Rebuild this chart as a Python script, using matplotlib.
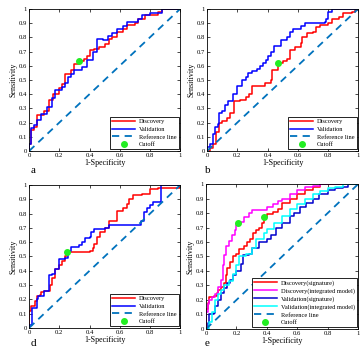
import matplotlib.pyplot as plt
import numpy as np

plt.rcParams['font.family'] = 'Liberation Serif'
plt.rcParams['xtick.direction'] = 'in'
plt.rcParams['ytick.direction'] = 'in'

# panel a
a_disc_x = [0, 0, 0.01, 0.01, 0.03, 0.03, 0.05, 0.05, 0.10, 0.10, 0.13, 0.13, 0.16, 0.16, 0.20, 0.20, 0.22, 0.22,
            0.24, 0.24, 0.28, 0.28, 0.30, 0.30, 0.33, 0.36, 0.38, 0.40, 0.40, 0.43, 0.46, 0.46, 0.50, 0.50, 0.53,
            0.53, 0.55, 0.55, 0.58, 0.58, 0.62, 0.62, 0.65, 0.65, 0.70, 0.72, 0.77, 0.77, 0.85, 0.88, 1]
a_disc_y = [0, 0.05, 0.05, 0.15, 0.15, 0.17, 0.17, 0.25, 0.25, 0.28, 0.28, 0.36, 0.36, 0.40, 0.40, 0.44, 0.44, 0.47,
            0.47, 0.54, 0.54, 0.57, 0.57, 0.61, 0.63, 0.65, 0.67, 0.67, 0.71, 0.72, 0.72, 0.73, 0.73, 0.75, 0.75,
            0.79, 0.79, 0.80, 0.80, 0.84, 0.84, 0.86, 0.86, 0.89, 0.90, 0.93, 0.93, 0.96, 0.98, 1.00, 1]
a_val_x = [0, 0, 0.01, 0.01, 0.03, 0.03, 0.05, 0.05, 0.08, 0.08, 0.12, 0.12, 0.15, 0.15, 0.17, 0.17, 0.22, 0.22,
           0.24, 0.24, 0.26, 0.26, 0.28, 0.28, 0.30, 0.30, 0.35, 0.35, 0.38, 0.38, 0.42, 0.42, 0.45, 0.45, 0.49,
           0.49, 0.52, 0.52, 0.55, 0.55, 0.58, 0.58, 0.62, 0.62, 0.65, 0.65, 0.72, 0.75, 0.75, 0.80, 0.80, 0.88,
           0.88, 1]
a_val_y = [0, 0.05, 0.05, 0.16, 0.16, 0.18, 0.18, 0.22, 0.22, 0.26, 0.26, 0.31, 0.31, 0.37, 0.37, 0.43, 0.43, 0.45,
           0.45, 0.48, 0.48, 0.52, 0.52, 0.54, 0.54, 0.57, 0.57, 0.59, 0.59, 0.64, 0.64, 0.70, 0.70, 0.79, 0.79,
           0.78, 0.78, 0.81, 0.81, 0.83, 0.83, 0.86, 0.86, 0.88, 0.88, 0.91, 0.93, 0.93, 0.96, 0.96, 0.97, 0.97,
           1.00, 1]
a_cut = ([0.33], [0.63])

# panel b
b_disc_x = [0, 0.02, 0.04, 0.06, 0.06, 0.08, 0.08, 0.10, 0.10, 0.13, 0.13, 0.15, 0.15, 0.18, 0.18, 0.20, 0.22,
            0.26, 0.26, 0.28, 0.30, 0.35, 0.38, 0.42, 0.43, 0.43, 0.47, 0.50, 0.53, 0.55, 0.58, 0.62, 0.63, 0.66,
            0.70, 0.72, 0.75, 0.80, 0.83, 0.87, 0.90, 0.96, 0.98, 1]
b_disc_y = [0, 0.02, 0.05, 0.10, 0.13, 0.13, 0.20, 0.20, 0.21, 0.21, 0.23, 0.23, 0.27, 0.27, 0.35, 0.35, 0.36,
            0.36, 0.38, 0.40, 0.46, 0.46, 0.48, 0.50, 0.52, 0.57, 0.62, 0.63, 0.65, 0.71, 0.73, 0.76, 0.80, 0.83,
            0.84, 0.87, 0.89, 0.90, 0.93, 0.94, 0.97, 0.98, 0.99, 1]
b_val_x = [0, 0, 0.02, 0.02, 0.04, 0.04, 0.05, 0.07, 0.08, 0.08, 0.10, 0.12, 0.14, 0.17, 0.20, 0.23, 0.26, 0.27,
           0.30, 0.33, 0.35, 0.37, 0.39, 0.40, 0.42, 0.44, 0.47, 0.49, 0.52, 0.53, 0.55, 0.57, 0.60, 0.62, 0.65,
           0.75, 0.78, 0.79, 0.80, 0.83, 0.83, 1]
b_val_y = [0, 0.03, 0.03, 0.05, 0.05, 0.12, 0.17, 0.19, 0.19, 0.27, 0.28, 0.32, 0.35, 0.40, 0.46, 0.50, 0.52, 0.55,
           0.56, 0.58, 0.60, 0.62, 0.64, 0.67, 0.70, 0.74, 0.74, 0.78, 0.78, 0.80, 0.84, 0.86, 0.86, 0.88, 0.90,
           0.90, 0.91, 0.93, 0.98, 0.98, 1.00, 1]
b_cut = ([0.47], [0.62])

# panel d
d_disc_x = [0, 0, 0.01, 0.01, 0.04, 0.04, 0.05, 0.05, 0.07, 0.08, 0.10, 0.12, 0.14, 0.15, 0.17, 0.17, 0.20, 0.20,
            0.22, 0.22, 0.24, 0.25, 0.30, 0.38, 0.40, 0.42, 0.43, 0.45, 0.47, 0.50, 0.50, 0.53, 0.53, 0.57, 0.58,
            0.62, 0.65, 0.66, 0.69, 0.75, 0.80, 0.85, 0.90, 1.00, 1]
d_disc_y = [0, 0.12, 0.12, 0.15, 0.16, 0.19, 0.19, 0.22, 0.23, 0.25, 0.26, 0.26, 0.30, 0.35, 0.38, 0.41, 0.41, 0.44,
            0.44, 0.47, 0.50, 0.53, 0.53, 0.53, 0.54, 0.56, 0.59, 0.64, 0.67, 0.67, 0.70, 0.72, 0.75, 0.75, 0.82,
            0.84, 0.87, 0.90, 0.93, 0.94, 0.97, 0.98, 0.98, 0.99, 1]
d_val_x = [0, 0, 0.02, 0.02, 0.04, 0.05, 0.06, 0.09, 0.10, 0.13, 0.13, 0.15, 0.17, 0.20, 0.20, 0.24, 0.26, 0.28,
           0.33, 0.35, 0.37, 0.40, 0.41, 0.43, 0.50, 0.53, 0.72, 0.74, 0.76, 0.76, 0.78, 0.80, 0.82, 0.87, 0.87, 1]
d_val_y = [0, 0.02, 0.02, 0.14, 0.14, 0.20, 0.22, 0.22, 0.26, 0.32, 0.37, 0.38, 0.41, 0.45, 0.48, 0.49, 0.54, 0.57,
           0.58, 0.60, 0.63, 0.64, 0.67, 0.69, 0.70, 0.72, 0.72, 0.75, 0.76, 0.81, 0.84, 0.86, 0.88, 0.88, 1.00, 1]
d_cut = ([0.25], [0.53])

# panel e
e_disc_sig_x = [0, 0, 0.01, 0.02, 0.05, 0.07, 0.08, 0.10, 0.12, 0.13, 0.14, 0.16, 0.18, 0.20, 0.22, 0.25, 0.27,
                0.29, 0.31, 0.33, 0.35, 0.37, 0.38, 0.40, 0.44, 0.47, 0.50, 0.55, 0.60, 0.65, 0.70, 0.75, 1]
e_disc_sig_y = [0, 0.14, 0.18, 0.22, 0.23, 0.25, 0.27, 0.29, 0.32, 0.37, 0.42, 0.46, 0.50, 0.52, 0.55, 0.57, 0.60,
                0.62, 0.66, 0.68, 0.70, 0.73, 0.77, 0.79, 0.81, 0.83, 0.87, 0.90, 0.93, 0.96, 0.98, 1.00, 1]
e_disc_int_x = [0, 0, 0.01, 0.02, 0.04, 0.06, 0.08, 0.10, 0.11, 0.12, 0.13, 0.15, 0.17, 0.19, 0.20, 0.22, 0.25,
                0.28, 0.30, 0.37, 0.40, 0.44, 0.47, 0.50, 0.55, 0.60, 0.65, 0.70, 0.75, 1]
e_disc_int_y = [0, 0.12, 0.17, 0.20, 0.22, 0.24, 0.29, 0.34, 0.44, 0.51, 0.57, 0.61, 0.65, 0.68, 0.72, 0.74, 0.77,
                0.80, 0.82, 0.82, 0.84, 0.86, 0.88, 0.90, 0.93, 0.96, 0.98, 0.99, 1.00, 1]
e_val_sig_x = [0, 0.01, 0.02, 0.05, 0.06, 0.08, 0.10, 0.12, 0.14, 0.16, 0.18, 0.20, 0.23, 0.24, 0.28, 0.30, 0.35,
               0.40, 0.43, 0.46, 0.50, 0.55, 0.58, 0.62, 0.66, 0.70, 0.74, 0.80, 0.85, 0.90, 0.93, 1]
e_val_sig_y = [0, 0.04, 0.10, 0.11, 0.16, 0.20, 0.25, 0.28, 0.32, 0.34, 0.37, 0.40, 0.45, 0.51, 0.52, 0.56, 0.60,
               0.62, 0.65, 0.70, 0.73, 0.78, 0.80, 0.84, 0.87, 0.90, 0.93, 0.96, 0.97, 0.98, 1.00, 1]
e_val_int_x = [0, 0.02, 0.04, 0.06, 0.08, 0.10, 0.12, 0.15, 0.18, 0.20, 0.22, 0.26, 0.30, 0.33, 0.38, 0.40, 0.45,
               0.50, 0.55, 0.60, 0.65, 0.70, 0.75, 0.80, 0.85, 0.90, 1]
e_val_int_y = [0, 0.05, 0.12, 0.20, 0.24, 0.27, 0.30, 0.33, 0.38, 0.44, 0.50, 0.52, 0.56, 0.62, 0.66, 0.69, 0.73,
               0.78, 0.83, 0.86, 0.90, 0.93, 0.95, 0.97, 0.98, 1.00, 1]
e_cut = ([0.21, 0.38], [0.73, 0.77])

RED = '#FF0000'
BLUE = '#0000FF'
REF = '#0072BD'
GREEN = '#22EE22'

fig = plt.figure(figsize=(3.64, 3.56), dpi=100)


def setup(ax, letter, lx, ly):
    ax.set_xlim(0, 1)
    ax.set_ylim(0, 1)
    ax.set_xticks(np.arange(0, 1.01, 0.2))
    ax.set_xticklabels(['0', '0.2', '0.4', '0.6', '0.8', '1'])
    ax.set_yticks(np.arange(0, 1.01, 0.1))
    ax.set_yticklabels(['0', '0.1', '0.2', '0.3', '0.4', '0.5', '0.6', '0.7', '0.8', '0.9', '1'])
    ax.tick_params(labelsize=4.8, length=2, width=0.5, pad=1.5, top=True, right=True)
    ax.set_xlabel('1-Specificity', fontsize=5.8, labelpad=1)
    ax.set_ylabel('Sensitivity', fontsize=5.8, labelpad=1)
    for s in ax.spines.values():
        s.set_linewidth(0.6)
    fig.text(lx, ly, letter, fontsize=8, ha='left', va='center')


def ref_and_cut(ax, cut):
    ax.plot([0, 1], [0, 1], '--', color=REF, lw=1.3, dashes=(4, 3), label='Reference line')
    ax.plot(cut[0], cut[1], 'o', color=GREEN, ms=4, ls='none', label='Cutoff')


def legend(ax):
    leg = ax.legend(loc='lower right', fontsize=4.6, handlelength=3.6, labelspacing=0.35,
                    borderpad=0.3, handletextpad=0.6, fancybox=False, framealpha=1,
                    borderaxespad=0.25)
    leg.get_frame().set_edgecolor('black')
    leg.get_frame().set_linewidth(0.6)


panels = [
    ([0.080, 0.576, 0.415, 0.399], 'a', 0.083, 0.52,
     [(a_disc_x, a_disc_y, RED, 'Discovery'), (a_val_x, a_val_y, BLUE, 'Validation')], a_cut),
    ([0.569, 0.576, 0.415, 0.399], 'b', 0.563, 0.52,
     [(b_disc_x, b_disc_y, RED, 'Discovery'), (b_val_x, b_val_y, BLUE, 'Validation')], b_cut),
    ([0.080, 0.079, 0.415, 0.401], 'd', 0.083, 0.035,
     [(d_disc_x, d_disc_y, RED, 'Discovery'), (d_val_x, d_val_y, BLUE, 'Validation')], d_cut),
    ([0.566, 0.076, 0.418, 0.407], 'e', 0.563, 0.035,
     [(e_disc_sig_x, e_disc_sig_y, RED, 'Discovery(signature)'),
      (e_disc_int_x, e_disc_int_y, '#FF00FF', 'Discovery(integrated model)'),
      (e_val_sig_x, e_val_sig_y, '#0000CC', 'Validation(signature)'),
      (e_val_int_x, e_val_int_y, '#00FFFF', 'Validation(integrated model)')], e_cut),
]

for rect, letter, lx, ly, curves, cut in panels:
    ax = fig.add_axes(rect)
    for x, y, c, lab in curves:
        ax.plot(x, y, color=c, lw=1.1, drawstyle='steps-post', label=lab)
    ref_and_cut(ax, cut)
    setup(ax, letter, lx, ly)
    legend(ax)

fig.savefig('out.png', dpi=100)
